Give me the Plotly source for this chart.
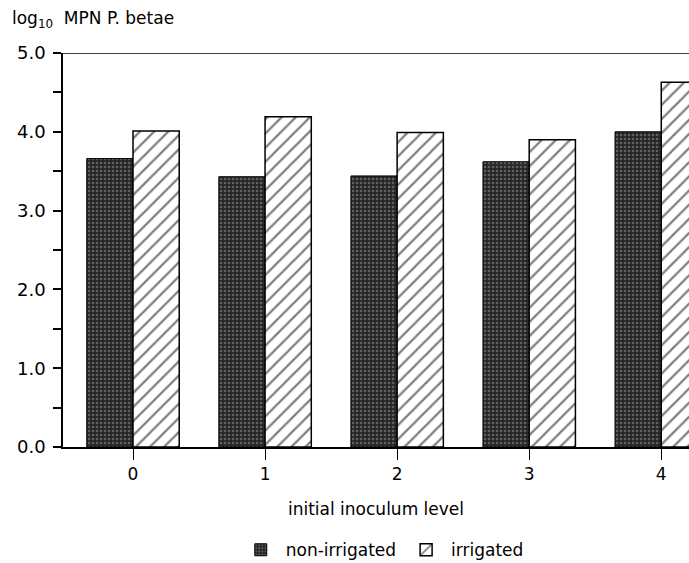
import plotly.graph_objects as go

categories = ["0", "1", "2", "3", "4"]
non_irrigated = [3.66, 3.43, 3.44, 3.62, 4.00]
irrigated = [4.01, 4.19, 3.99, 3.90, 4.63]
y_ticks = [0, 1, 2, 3, 4, 5]
y_tick_labels = ["0.0", "1.0", "2.0", "3.0", "4.0", "5.0"]

FONT = "DejaVu Sans, Arial, Helvetica, sans-serif"

fig = go.Figure()
fig.add_trace(go.Bar(
    x=categories, y=non_irrigated, name="non-irrigated",
    marker=dict(color="#2e2e2e", line=dict(color="black", width=1),
                pattern=dict(shape=".", fgcolor="#9a9a9a", bgcolor="#262626",
                             size=4, solidity=0.35)),
))
fig.add_trace(go.Bar(
    x=categories, y=irrigated, name="irrigated",
    marker=dict(color="white", line=dict(color="black", width=1.5),
                pattern=dict(shape="/", fgcolor="black", bgcolor="white",
                             size=10, solidity=0.22)),
))

fig.update_layout(
    width=689, height=563,
    margin=dict(l=63, r=0, t=53, b=116, autoexpand=False),
    paper_bgcolor="white", plot_bgcolor="white",
    barmode="group", bargap=0.3, bargroupgap=0,
    font=dict(family=FONT, size=17, color="black"),
    showlegend=True,
    legend=dict(orientation="h", x=0.51, xanchor="center", y=-0.262, yanchor="middle",
                font=dict(size=17), itemwidth=40, traceorder="normal"),
    xaxis=dict(
        type="category", range=[-0.53, 4.21],
        showline=True, linecolor="black", linewidth=1.5,
        ticks="outside", ticklen=11, tickcolor="black", tickwidth=1,
        showgrid=False, zeroline=False, tickfont=dict(size=17),
        title=dict(text="initial inoculum level", font=dict(size=17), standoff=20),
    ),
    yaxis=dict(
        range=[0, 5], tickvals=y_ticks, ticktext=y_tick_labels,
        showline=True, linecolor="black", linewidth=1.5,
        ticks="outside", ticklen=8, tickcolor="black", tickwidth=1.5,
        minor=dict(dtick=0.5, ticks="outside", ticklen=8, tickcolor="black", tickwidth=1.5),
        showgrid=False, zeroline=False, tickfont=dict(size=18),
        ticklabelstandoff=4,
    ),
)

fig.add_shape(type="line", xref="paper", yref="y", x0=0, x1=1, y0=5, y1=5,
              line=dict(color="black", width=1.5))

fig.add_annotation(text="log<sub>10</sub>  MPN P. betae", xref="paper", yref="paper",
                   x=-0.085, y=1.085, xanchor="left", yanchor="middle",
                   showarrow=False, font=dict(size=17))

fig.write_html("out.html")
